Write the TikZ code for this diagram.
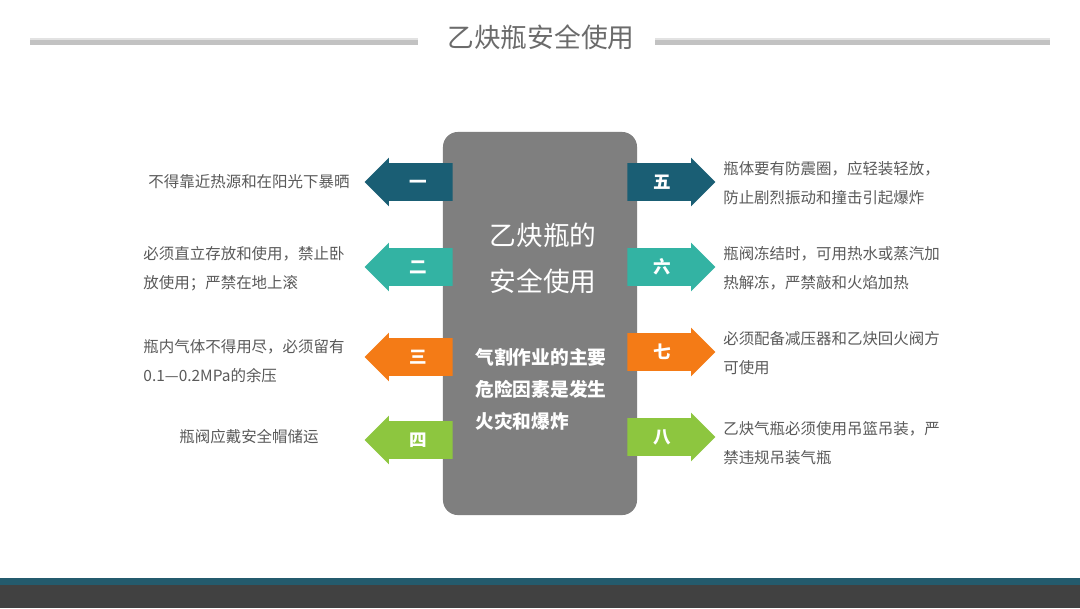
\documentclass[tikz,border=0pt]{standalone}
\usepackage{fontspec}
\setmainfont{Noto Sans CJK SC}
\usetikzlibrary{shapes.arrows,positioning}
\definecolor{hubgray}{HTML}{7F7F7F}
\definecolor{notegray}{HTML}{5A5A5A}
\definecolor{titlegray}{HTML}{6B6B6B}
\definecolor{tagnavy}{HTML}{1A5E74}
\definecolor{tagteal}{HTML}{33B3A3}
\definecolor{tagorange}{HTML}{F47B16}
\definecolor{taggreen}{HTML}{8DC63F}
\definecolor{barshade}{HTML}{C2C2C2}
\definecolor{barlight}{HTML}{E2E2E2}
\definecolor{stripteal}{HTML}{245B6D}
\definecolor{stripdark}{HTML}{414141}

\begin{document}
\begin{tikzpicture}[
    x=0.025cm, y=-0.025cm,
    hub/.style={fill=hubgray, rounded corners=0.375cm, minimum width=4.85cm, minimum height=9.575cm, inner sep=0pt},
    hubtitle/.style={text=white, align=center, inner sep=0pt, font=\fontsize{19}{32.7}\selectfont},
    hubnote/.style={text=white, align=left, inner sep=0pt, font=\bfseries\fontsize{13.3}{22.8}\selectfont},
    tag/.style={shape=single arrow, single arrow head extend=0.1375cm, single arrow tip angle=90, minimum height=2.2cm, inner xsep=0pt, inner ysep=0pt, text height=0.63cm, text depth=0.295cm, text=white, font=\bfseries\fontsize{12.5}{12.5}\selectfont},
    ltag/.style={tag, shape border rotate=180, anchor=tail},
    rtag/.style={tag, anchor=tail},
    note/.style={text=notegray, align=left, inner sep=0pt, font=\fontsize{11}{20.6}\selectfont},
    heading/.style={text=titlegray, inner sep=0pt, font=\fontsize{19}{19}\selectfont}
  ]
    \fill[white] (0,0) rectangle (1080,608);
    \useasboundingbox (0,0) rectangle (1080,608);
    % title with bars
    \node[heading] (heading) at (541,37) {乙炔瓶安全使用};
    \fill[barshade] (30,38) rectangle (418,45);
    \fill[barlight] (30,37.5) rectangle (418,40);
    \fill[barshade] (655,38) rectangle (1050,45);
    \fill[barlight] (655,37.5) rectangle (1050,40);
    % centre block
    \node[hub] (hub) at (540,323.5) {};
    \node[hubtitle] (hubname) at (543,258) {乙炔瓶的\\安全使用};
    \node[hubnote] (hubnote) at (541,389) {气割作业的主要\\危险因素是发生\\火灾和爆炸};
    % left side
    \node[ltag, fill=tagnavy] (one) at (453,182) {一};
    \node[ltag, fill=tagteal] (two) at (453,267) {二};
    \node[ltag, fill=tagorange] (three) at (453,357) {三};
    \node[ltag, fill=taggreen] (four) at (453,440) {四};
    \node[note] (onetext) at (249,182) {不得靠近热源和在阳光下暴晒};
    \node[note] (twotext) at (244,269) {必须直立存放和使用，禁止卧\\放使用；严禁在地上滚};
    \node[note] (threetext) at (244,361) {瓶内气体不得用尽，必须留有\\0.1—0.2MPa的余压};
    \node[note] (fourtext) at (249,437) {瓶阀应戴安全帽储运};
    % right side
    \node[rtag, fill=tagnavy] (five) at (627,182) {五};
    \node[rtag, fill=tagteal] (six) at (627,267) {六};
    \node[rtag, fill=tagorange] (seven) at (627,352) {七};
    \node[rtag, fill=taggreen] (eight) at (627,437) {八};
    \node[note, anchor=west] (fivetext) at (723,183) {瓶体要有防震圈，应轻装轻放，\\防止剧烈振动和撞击引起爆炸};
    \node[note, anchor=west] (sixtext) at (723,268) {瓶阀冻结时，可用热水或蒸汽加\\热解冻，严禁敲和火焰加热};
    \node[note, anchor=west] (seventext) at (723,353) {必须配备减压器和乙炔回火阀方\\可使用};
    \node[note, anchor=west] (eighttext) at (723,443) {乙炔气瓶必须使用吊篮吊装，严\\禁违规吊装气瓶};
    % footer strip
    \fill[stripteal] (0,578) rectangle (1080,585);
    \fill[stripdark] (0,585) rectangle (1080,608);
  \end{tikzpicture}
\end{document}
